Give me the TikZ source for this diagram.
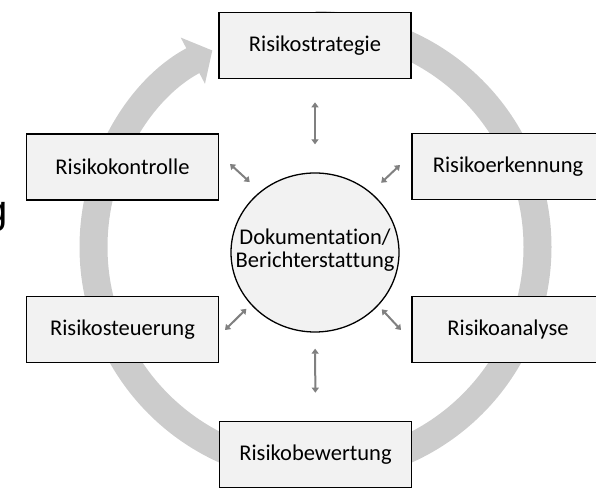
\documentclass[tikz,border=0pt]{standalone}
\usepackage{fontspec}
\setmainfont[Ligatures=NoCommon]{Carlito}
\newfontfamily\arialfont{Liberation Sans}
\usetikzlibrary{arrows.meta,shapes.geometric}
\definecolor{boxfill}{RGB}{242,242,242}
\definecolor{ringgray}{RGB}{204,204,204}
\definecolor{arrowgray}{RGB}{128,128,128}

\begin{document}
\begin{tikzpicture}[x=1pt, y=1pt,
    phase/.style={draw=black, line width=1.6pt, fill=boxfill, minimum width=192pt,
      minimum height=66pt, inner sep=0pt, font=\fontsize{22.5}{27}\selectfont},
    dblarrow/.style={draw=arrowgray, line width=2pt,
      {Triangle[length=5pt,width=7pt]}-{Triangle[length=5pt,width=7pt]}}]
  \path[use as bounding box] (0,0) rectangle (596,487);
  \clip (0,0) rectangle (596,487);

  % cycle behind the boxes
  \draw[ringgray, line width=28pt, -{Triangle[length=22pt,width=51pt]}]
    (315.5,240) ++(90:222) arc[start angle=90, end angle=-242.3, radius=222];

  \node[anchor=base east, inner sep=0pt, font=\arialfont\fontsize{40}{48}\selectfont] (cut) at (8,263) {g};

  \node[phase] (strat) at (315,441.5) {Risikostrategie};
  \node[phase] (erk) at (508,320.5) {Risikoerkennung};
  \node[phase] (ana) at (508,157.5) {Risikoanalyse};
  \node[phase] (bew) at (315.5,32.5) {Risikobewertung};
  \node[phase] (steu) at (122.5,157.5) {Risikosteuerung};
  \node[phase] (kon) at (122.5,320) {Risikokontrolle};

  \node[ellipse, draw=black, line width=1.3pt, fill=boxfill, minimum width=168pt,
    minimum height=159pt, inner sep=0pt] (doku) at (315,234.5) {};
  \node[align=center, inner sep=0pt, font=\fontsize{22.5}{23}\selectfont] (doku-text) at (315,237)
    {Dokumentation/\\Berichterstattung};

  \coordinate (to-kon) at (230,323);
  \coordinate (to-erk) at (400,322);
  \coordinate (to-steu) at (225,157);
  \coordinate (to-ana) at (401,157);

  \draw[dblarrow, shorten <=28pt, shorten >=23pt] (doku.north) -- (strat.south);
  \draw[dblarrow, shorten <=16pt, shorten >=28pt] (doku.south) -- (bew.north);
  \draw[dblarrow, shorten <=14pt] (doku.132) -- (to-kon);
  \draw[dblarrow, shorten <=14pt] (doku.47) -- (to-erk);
  \draw[dblarrow, shorten <=6pt] (doku.219) -- (to-steu);
  \draw[dblarrow, shorten <=5pt] (doku.320) -- (to-ana);
\end{tikzpicture}
\end{document}
